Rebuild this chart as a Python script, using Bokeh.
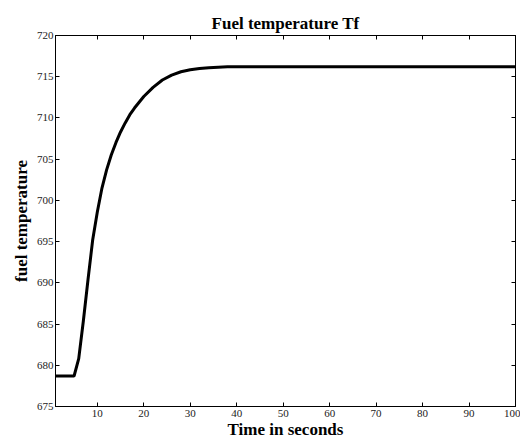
from bokeh.plotting import figure
from bokeh.models import LinearAxis, FixedTicker, Range1d, Title
from bokeh.embed import file_html
from bokeh.resources import INLINE

# Data
time_s = [1, 2, 3, 4, 5, 6, 7, 8, 9, 10, 11, 12, 13, 14, 15, 16, 17, 18, 19, 20,
          22, 24, 26, 28, 30, 32, 34, 36, 38, 40, 100]
fuel_temp = [678.7, 678.7, 678.7, 678.7, 678.7, 680.8, 685.4, 690.4, 695.2, 698.6,
             701.5, 703.7, 705.5, 707.0, 708.3, 709.4, 710.4, 711.2, 711.9, 712.6,
             713.7, 714.6, 715.2, 715.6, 715.85, 716.0, 716.1, 716.15, 716.2, 716.2, 716.2]
x_ticks = [10, 20, 30, 40, 50, 60, 70, 80, 90, 100]
y_ticks = [675, 680, 685, 690, 695, 700, 705, 710, 715, 720]

FONT = "Liberation Serif"

p = figure(width=520, height=441, output_backend="svg", toolbar_location=None,
           x_range=Range1d(1, 100), y_range=Range1d(675, 720),
           min_border_left=55, min_border_right=5, min_border_top=35, min_border_bottom=34,
           x_axis_label="Time in seconds", y_axis_label="fuel temperature")
p.title = Title(text="Fuel temperature Tf", align="center", text_font=FONT,
                text_font_size="17px", text_font_style="bold", text_color="#000000",
                offset=0, standoff=5)
p.grid.visible = False
p.outline_line_color = "#000000"
p.outline_line_width = 1
p.background_fill_color = "#ffffff"
p.border_fill_color = "#ffffff"

p.line(time_s, fuel_temp, line_color="#000000", line_width=3)

def style_axis(ax, ticks, labels=True):
    ax.ticker = FixedTicker(ticks=ticks)
    ax.minor_tick_line_color = None
    ax.major_tick_in = 4
    ax.major_tick_out = 0
    ax.axis_line_color = "#000000"
    ax.major_tick_line_color = "#000000"
    ax.major_label_text_font = FONT
    ax.major_label_text_font_size = "11px"
    ax.major_label_text_color = "#222222"
    ax.axis_label_text_font = FONT
    ax.axis_label_text_font_size = "17px"
    ax.axis_label_text_font_style = "bold"
    ax.axis_label_text_color = "#000000"
    if not labels:
        ax.major_label_overrides = {t: "" for t in ticks}
        ax.major_label_standoff = 0

style_axis(p.xaxis[0], x_ticks)
style_axis(p.yaxis[0], y_ticks)
p.xaxis[0].major_label_standoff = 3
p.xaxis[0].axis_label_standoff = 0
p.yaxis[0].major_label_standoff = 2
p.yaxis[0].axis_label_standoff = 3

top = LinearAxis()
style_axis(top, x_ticks, labels=False)
p.add_layout(top, "above")
right = LinearAxis()
style_axis(right, y_ticks, labels=False)
p.add_layout(right, "right")

open("out.html", "w").write(file_html(p, INLINE))
